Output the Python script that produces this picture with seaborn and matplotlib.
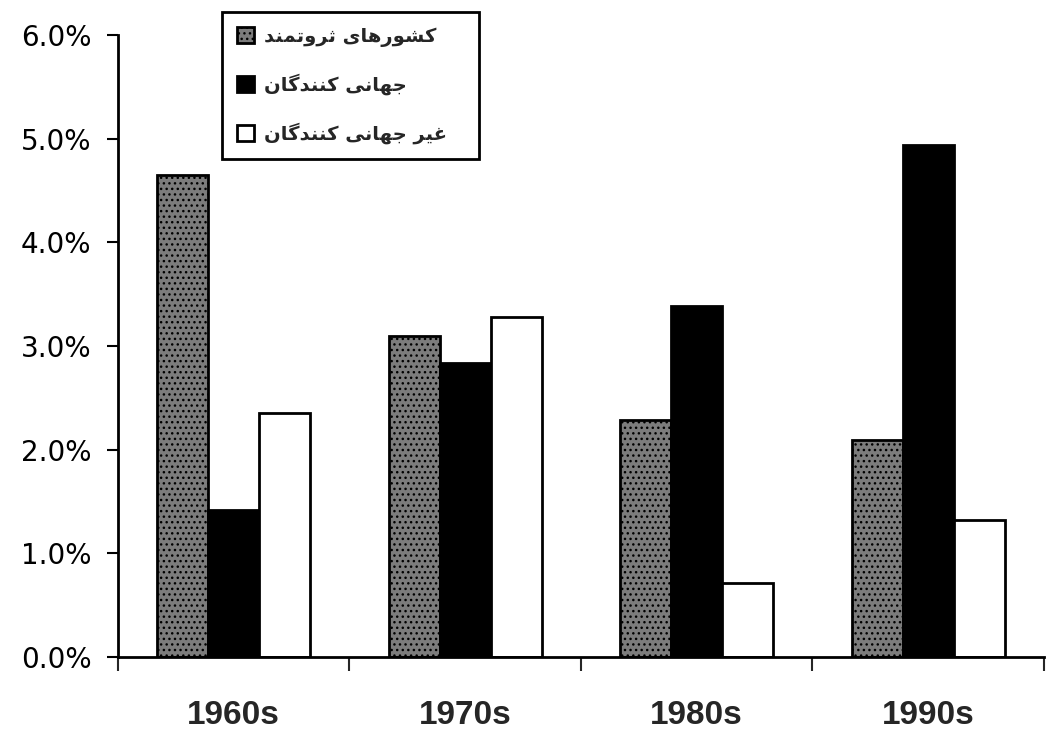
import pandas as pd
import matplotlib
matplotlib.use("Agg")
import matplotlib.pyplot as plt
import seaborn as sns
from matplotlib.ticker import FixedLocator, FuncFormatter


# ==========================================
# Data
# ==========================================

decades = ["1960s", "1970s", "1980s", "1990s"]

rich = [4.65, 3.10, 2.29, 2.09]
globalizers = [1.42, 2.84, 3.39, 4.94]
non_globalizers = [2.35, 3.28, 0.71, 1.32]

series_names = [
    "کشورهای ثروتمند",
    "جهانی کنندگان",
    "غیر جهانی کنندگان",
]

series_colors = ["#7c7c7c", "#000000", "#ffffff"]


# ==========================================
# Small Persian shaper (matplotlib does no RTL shaping)
# isolated, final, initial, medial
# ==========================================

forms = {
    "ا": ("\uFE8D", "\uFE8E", None, None),
    "د": ("\uFEA9", "\uFEAA", None, None),
    "ر": ("\uFEAD", "\uFEAE", None, None),
    "و": ("\uFEED", "\uFEEE", None, None),
    "ت": ("\uFE95", "\uFE96", "\uFE97", "\uFE98"),
    "ث": ("\uFE99", "\uFE9A", "\uFE9B", "\uFE9C"),
    "ج": ("\uFE9D", "\uFE9E", "\uFE9F", "\uFEA0"),
    "ش": ("\uFEB5", "\uFEB6", "\uFEB7", "\uFEB8"),
    "غ": ("\uFECD", "\uFECE", "\uFECF", "\uFED0"),
    "م": ("\uFEE1", "\uFEE2", "\uFEE3", "\uFEE4"),
    "ن": ("\uFEE5", "\uFEE6", "\uFEE7", "\uFEE8"),
    "ه": ("\uFEE9", "\uFEEA", "\uFEEB", "\uFEEC"),
    "ک": ("\uFB8E", "\uFB8F", "\uFB90", "\uFB91"),
    "گ": ("\uFB92", "\uFB93", "\uFB94", "\uFB95"),
    "ی": ("\uFBFC", "\uFBFD", "\uFBFE", "\uFBFF"),
}


def shape(text):
    out = []
    for i, ch in enumerate(text):
        if ch not in forms:
            out.append(ch)
            continue
        prev = text[i - 1] if i > 0 else ""
        nxt = text[i + 1] if i + 1 < len(text) else ""
        join_prev = prev in forms and forms[prev][2] is not None
        join_next = forms[ch][2] is not None and nxt in forms
        if join_prev and join_next:
            out.append(forms[ch][3])
        elif join_prev:
            out.append(forms[ch][1])
        elif join_next:
            out.append(forms[ch][2])
        else:
            out.append(forms[ch][0])
    return "".join(out)[::-1]


# ==========================================
# Long table for seaborn
# ==========================================

df = pd.DataFrame({
    "decade": decades * 3,
    "value": rich + globalizers + non_globalizers,
    "series": [series_names[0]] * 4 + [series_names[1]] * 4 + [series_names[2]] * 4,
})


# ==========================================
# Plot
# ==========================================

sns.set_style("ticks")
plt.rcParams["font.family"] = ["DejaVu Sans"]

fig = plt.figure(figsize=(10.46, 7.41), dpi=100)
ax = fig.add_axes([0.1128, 0.1134, 0.8852, 0.8394])

sns.barplot(
    data=df,
    x="decade",
    y="value",
    hue="series",
    palette=dict(zip(series_names, series_colors)),
    width=0.66,
    gap=0,
    edgecolor="black",
    linewidth=2,
    saturation=1,
    legend=False,
    ax=ax,
)

# speckled texture on the rich-country bars
for bar in ax.containers[0]:
    bar.set_hatch("...")

ax.set_xlim(-0.5, 3.5)
ax.set_ylim(0, 6)
ax.set_xlabel("")
ax.set_ylabel("")

ax.set_yticks([0, 1, 2, 3, 4, 5, 6])
ax.yaxis.set_major_formatter(FuncFormatter(lambda v, p: f"{v:.1f}%"))
ax.tick_params(axis="y", direction="out", length=8, width=1.5,
               pad=11, labelsize=20, colors="black")

ax.tick_params(axis="x", which="major", length=0, pad=31)
for lab in ax.get_xticklabels():
    lab.set_fontfamily("Liberation Sans")
    lab.set_fontweight("bold")
    lab.set_fontsize(24)

ax.xaxis.set_minor_locator(FixedLocator([-0.5, 0.5, 1.5, 2.5, 3.5]))
ax.tick_params(axis="x", which="minor", direction="out", length=10, width=1.5)

sns.despine(ax=ax)
for side in ["left", "bottom"]:
    ax.spines[side].set_linewidth(2)
    ax.spines[side].set_color("black")


# ==========================================
# Legend
# ==========================================

leg = ax.legend(
    list(ax.containers),
    [shape(s) for s in series_names],
    loc="upper left",
    bbox_to_anchor=(0.1123, 0.812, 0.2775, 0.225),
    mode="expand",
    borderaxespad=0,
    frameon=True,
    fancybox=False,
    handlelength=0.9,
    handleheight=0.9,
    handletextpad=0.5,
    labelspacing=1.4,
    borderpad=0.75,
    prop={"family": "DejaVu Sans", "weight": "bold", "size": 14},
)
leg.get_frame().set_edgecolor("black")
leg.get_frame().set_linewidth(2)
leg.get_frame().set_alpha(1)

fig.savefig("out.png", dpi=100)
